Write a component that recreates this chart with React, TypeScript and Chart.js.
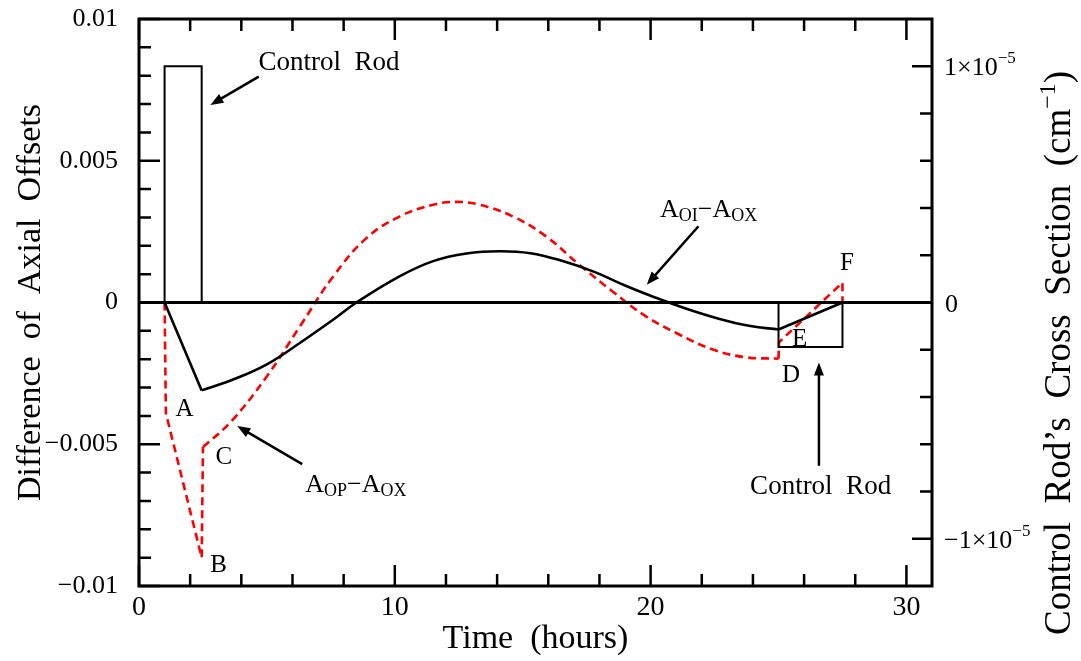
import React, { useEffect, useRef } from 'react';
import { Chart, registerables } from 'chart.js';
Chart.register(...registerables);

const FONT = '"Liberation Serif", "Times New Roman", serif';

// Control rod cross section (right axis, cm^-1)
const rodX = [0, 1, 1, 2.45, 2.45];
const rodY = [0, 0, 1e-5, 1e-5, 0];
const rod2X = [25, 25, 27.5, 27.5];
const rod2Y = [0, -1.88e-6, -1.88e-6, 0];
const zeroX = [0, 31];
const zeroY = [0, 0];

// A_OI - A_OX (black solid)
const oiRampX = [1, 2.45];
const oiRampY = [0, -0.0031];
const oiX = [2.45, 3.7, 5.0, 6.3, 7.6, 8.5, 10.2, 11.5, 12.8, 14.1, 15.3, 16.5, 17.8, 19.0, 20.2, 21.4, 22.7, 23.9, 25.0];
const oiY = [-0.0031, -0.00271, -0.00218, -0.00142, -0.0006, 0, 0.00093, 0.00146, 0.00173, 0.00181, 0.00174, 0.00148, 0.00108, 0.0006, 0.00017, -0.00022, -0.00058, -0.00083, -0.00095];
const oiEndX = [25, 27.5];
const oiEndY = [-0.00095, 0];

// A_OP - A_OX (red dashed)
const opStartX = [1, 1.05, 2.45, 2.5];
const opStartY = [0, -0.0039, -0.009, -0.0051];
const opX = [2.5, 3.6, 5.0, 6.3, 7.6, 8.9, 10.2, 11.5, 12.4, 13.3, 14.6, 15.9, 17.2, 18.5, 19.8, 21.1, 22.4, 23.7, 25.0];
const opY = [-0.0051, -0.0042, -0.0026, -0.00083, 0.00093, 0.00228, 0.00304, 0.00345, 0.00355, 0.00345, 0.00304, 0.00234, 0.00134, 0.0004, -0.00048, -0.00112, -0.00165, -0.00193, -0.00198];
const opEndX = [25, 25.02, 27.5, 27.5];
const opEndY = [-0.00198, -0.0014, 0.0007, 0];

// Axis ticks
const xTickValues = [0, 10, 20, 30];
const yTickValues = [-0.01, -0.005, 0, 0.005, 0.01];
const yTickLabels = ['\u22120.01', '\u22120.005', '0', '0.005', '0.01'];
const y2TickValues = [-1e-5, 0, 1e-5];

// Annotations (data coordinates on x / left y)
const letterText = ['A', 'B', 'C', 'D', 'E', 'F'];
const letterX = [1.43, 2.79, 2.99, 25.14, 25.53, 27.4];
const letterY = [-0.00401, -0.0095, -0.0057, -0.00282, -0.00155, 0.00116];
const arrowFromX = [4.68, 21.87, 6.38, 26.58];
const arrowFromY = [0.00797, 0.00269, -0.0057, -0.00576];
const arrowToX = [2.79, 19.85, 3.84, 26.58];
const arrowToY = [0.00697, 0.00063, -0.00436, -0.00212];
const rodLabelX = [4.67, 23.89];
const rodLabelY = [0.0082, -0.00676];

const pts = (xs: number[], ys: number[]) => xs.map((x, i) => ({ x, y: ys[i] }));

function drawParts(ctx: CanvasRenderingContext2D, parts: { t: string; s: number; dy: number }[], x: number, y: number, align: 'left' | 'center' = 'left') {
  let total = 0;
  for (const p of parts) {
    ctx.font = `${p.s}px ${FONT}`;
    total += ctx.measureText(p.t).width;
  }
  let cx = align === 'center' ? x - total / 2 : x;
  ctx.textAlign = 'left';
  ctx.textBaseline = 'alphabetic';
  for (const p of parts) {
    ctx.font = `${p.s}px ${FONT}`;
    ctx.fillText(p.t, cx, y + p.dy);
    cx += ctx.measureText(p.t).width;
  }
}

function arrow(ctx: CanvasRenderingContext2D, x1: number, y1: number, x2: number, y2: number) {
  const ang = Math.atan2(y2 - y1, x2 - x1);
  const hl = 13, hw = 5;
  ctx.lineWidth = 2.5;
  ctx.beginPath();
  ctx.moveTo(x1, y1);
  ctx.lineTo(x2 - Math.cos(ang) * hl * 0.8, y2 - Math.sin(ang) * hl * 0.8);
  ctx.stroke();
  ctx.beginPath();
  ctx.moveTo(x2, y2);
  ctx.lineTo(x2 - Math.cos(ang) * hl + Math.sin(ang) * hw, y2 - Math.sin(ang) * hl - Math.cos(ang) * hw);
  ctx.lineTo(x2 - Math.cos(ang) * hl - Math.sin(ang) * hw, y2 - Math.sin(ang) * hl + Math.cos(ang) * hw);
  ctx.closePath();
  ctx.fill();
}

const decor = {
  id: 'decor',
  afterDraw(chart: any) {
    const ctx: CanvasRenderingContext2D = chart.ctx;
    const { left, right, top, bottom } = chart.chartArea;
    const xs = chart.scales.x, ys = chart.scales.y, y2s = chart.scales.y2;
    ctx.save();
    ctx.strokeStyle = '#000';
    ctx.fillStyle = '#000';
    ctx.lineCap = 'butt';
    ctx.lineWidth = 3;
    ctx.strokeRect(left, top, right - left, bottom - top);
    ctx.lineWidth = 2.5;
    ctx.beginPath();
    for (let v = 0; v <= 31; v += 2) {
      const px = xs.getPixelForValue(v);
      const len = v % 10 === 0 ? 21 : 12;
      ctx.moveTo(px, bottom); ctx.lineTo(px, bottom - len);
      ctx.moveTo(px, top); ctx.lineTo(px, top + len);
    }
    for (let i = -10; i <= 10; i++) {
      const py = ys.getPixelForValue(i * 0.001);
      const len = i % 5 === 0 ? 21 : 12;
      ctx.moveTo(left, py); ctx.lineTo(left + len, py);
    }
    for (let i = -5; i <= 5; i++) {
      const py = y2s.getPixelForValue(i * 2e-6);
      const len = i % 5 === 0 ? 20 : 12;
      ctx.moveTo(right, py); ctx.lineTo(right - len, py);
    }
    ctx.stroke();

    for (const v of y2TickValues) {
      const py = y2s.getPixelForValue(v) + 9;
      if (v === 0) drawParts(ctx, [{ t: '0', s: 26, dy: 0 }], right + 13, py);
      else drawParts(ctx, [{ t: (v < 0 ? '\u2212' : '') + '1\u00d710', s: 26, dy: 0 }, { t: '\u22125', s: 17, dy: -12 }], right + 12, py);
    }

    ctx.font = `34px ${FONT}`;
    ctx.textAlign = 'center';
    ctx.textBaseline = 'alphabetic';
    ctx.fillText('Time  (hours)', (left + right) / 2, 648);
    ctx.save();
    ctx.translate(40, (top + bottom) / 2);
    ctx.rotate(-Math.PI / 2);
    ctx.fillText('Difference  of  Axial  Offsets', 0, 0);
    ctx.restore();
    ctx.save();
    ctx.translate(1070, 353);
    ctx.rotate(-Math.PI / 2);
    drawParts(ctx, [
      { t: 'Control  Rod\u2019s  Cross  Section  (cm', s: 37, dy: 0 },
      { t: '\u22121', s: 24, dy: -15 },
      { t: ')', s: 37, dy: 0 },
    ], 0, 0, 'center');
    ctx.restore();

    for (let i = 0; i < letterText.length; i++) {
      drawParts(ctx, [{ t: letterText[i], s: 25, dy: 0 }], xs.getPixelForValue(letterX[i]), ys.getPixelForValue(letterY[i]));
    }
    for (let i = 0; i < rodLabelX.length; i++) {
      drawParts(ctx, [{ t: 'Control  Rod', s: 27, dy: 0 }], xs.getPixelForValue(rodLabelX[i]), ys.getPixelForValue(rodLabelY[i]));
    }
    drawParts(ctx, [
      { t: 'A', s: 26, dy: 0 }, { t: 'OI', s: 18, dy: 4 }, { t: '\u2212A', s: 26, dy: 0 }, { t: 'OX', s: 18, dy: 4 },
    ], xs.getPixelForValue(20.37), ys.getPixelForValue(0.00303));
    drawParts(ctx, [
      { t: 'A', s: 26, dy: 0 }, { t: 'OP', s: 18, dy: 4 }, { t: '\u2212A', s: 26, dy: 0 }, { t: 'OX', s: 18, dy: 4 },
    ], xs.getPixelForValue(6.5), ys.getPixelForValue(-0.00669));
    for (let i = 0; i < arrowFromX.length; i++) {
      arrow(ctx, xs.getPixelForValue(arrowFromX[i]), ys.getPixelForValue(arrowFromY[i]), xs.getPixelForValue(arrowToX[i]), ys.getPixelForValue(arrowToY[i]));
    }
    ctx.restore();
  },
};

export default function App() {
  const ref = useRef<HTMLCanvasElement>(null);
  useEffect(() => {
    const black = { borderColor: '#000', pointRadius: 0, fill: false };
    const red = { borderColor: '#ff0000', pointRadius: 0, fill: false, borderDash: [8, 5], borderWidth: 2.6 };
    const chart = new Chart(ref.current!, {
      type: 'line',
      data: {
        datasets: [
          { ...black, data: pts(zeroX, zeroY), yAxisID: 'y2', borderWidth: 2.8 },
          { ...black, data: pts(rodX, rodY), yAxisID: 'y2', borderWidth: 2 },
          { ...black, data: pts(rod2X, rod2Y), yAxisID: 'y2', borderWidth: 2 },
          { ...black, data: pts(oiRampX, oiRampY), yAxisID: 'y', borderWidth: 2.6 },
          { ...black, data: pts(oiX, oiY), yAxisID: 'y', borderWidth: 2.6, tension: 0.4 },
          { ...black, data: pts(oiEndX, oiEndY), yAxisID: 'y', borderWidth: 2.6 },
          { ...red, data: pts(opStartX, opStartY), yAxisID: 'y' },
          { ...red, data: pts(opX, opY), yAxisID: 'y', tension: 0.4 },
          { ...red, data: pts(opEndX, opEndY), yAxisID: 'y' },
        ] as any,
      },
      options: {
        animation: false,
        responsive: true,
        maintainAspectRatio: false,
        layout: { padding: { top: 19, left: 0, right: 0, bottom: 0 } },
        plugins: { legend: { display: false }, tooltip: { enabled: false } },
        elements: { line: { tension: 0 } },
        scales: {
          x: {
            type: 'linear', position: 'bottom', min: 0, max: 31,
            grid: { display: false, drawTicks: false }, border: { display: false },
            afterBuildTicks: (s: any) => { s.ticks = xTickValues.map((v) => ({ value: v })); },
            afterFit: (s: any) => { s.height = 75; s.paddingLeft = 0; s.paddingRight = 0; },
            ticks: { color: '#000', font: { family: FONT, size: 28 }, padding: 5, maxRotation: 0, callback: (v: any) => String(v) },
          },
          y: {
            type: 'linear', position: 'left', min: -0.01, max: 0.01,
            grid: { display: false, drawTicks: false }, border: { display: false },
            afterBuildTicks: (s: any) => { s.ticks = yTickValues.map((v) => ({ value: v })); },
            afterFit: (s: any) => { s.width = 139; s.paddingTop = 0; s.paddingBottom = 0; },
            ticks: {
              color: '#000', font: { family: FONT, size: 26 }, padding: 21,
              callback: (v: any) => { const i = yTickValues.findIndex((t) => Math.abs(t - v) < 1e-9); return i >= 0 ? yTickLabels[i] : ''; },
            },
          },
          y2: {
            type: 'linear', position: 'right', min: -1.2e-5, max: 1.2e-5,
            grid: { display: false, drawTicks: false }, border: { display: false },
            ticks: { display: false },
            afterFit: (s: any) => { s.width = 149; s.paddingTop = 0; s.paddingBottom = 0; },
          },
        },
      } as any,
      plugins: [decor],
    });
    return () => chart.destroy();
  }, []);
  return (
    <div style={{ position: 'fixed', left: 0, top: 0, width: 1081, height: 661, background: '#fff' }}>
      <canvas ref={ref} />
    </div>
  );
}
